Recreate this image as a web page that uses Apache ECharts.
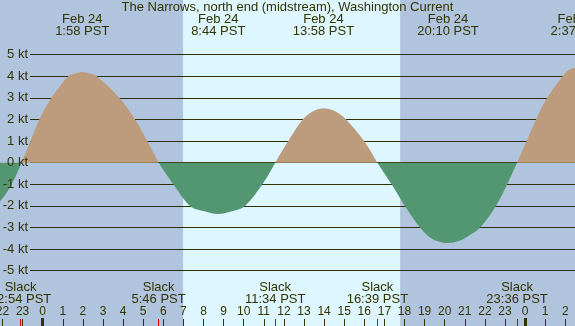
<!DOCTYPE html>
<html>
<head>
<meta charset="utf-8">
<script src="https://cdn.jsdelivr.net/npm/echarts@6/dist/echarts.min.js"></script>
<style>
html,body{margin:0;padding:0;background:#b0c4de;}
#chart{width:575px;height:326px;}
</style>
</head>
<body>
<div id="chart"></div>
<script>
// ---------------- data ----------------
const chartTitle = 'The Narrows, north end (midstream), Washington Current';
// current samples: hours since Feb 24 00:00 PST, and speed in knots (+ flood, - ebb)
const sampleHours = [-2.6, -2.12, -1.54, -1.05, -0.6, -0.17, 0.45, 1.27, 1.6, 1.97, 2.35, 2.69, 3.81, 4.6, 5.2, 5.77,
  6.5, 7.33, 8.0, 8.73, 9.45, 10.06, 10.93, 11.57,
  12.31, 12.94, 13.5, 13.97, 14.5, 15.09, 15.99, 16.65,
  17.36, 18.02, 18.77, 19.27, 19.7, 20.17, 20.7, 21.2, 21.76, 22.55, 23.11, 23.6,
  24.08, 24.54, 25.1, 25.87, 26.2, 26.62, 27.2];
const sampleKnots = [-2.05, -1.79, -1.0, 0, 1.0, 2.0, 3.0, 4.0, 4.13, 4.2, 4.13, 4.0, 3.0, 2.0, 1.0, 0,
  -1.0, -2.0, -2.24, -2.38, -2.24, -2.0, -1.0, 0,
  1.14, 2.0, 2.4, 2.52, 2.4, 2.0, 1.0, 0,
  -1.0, -2.0, -3.0, -3.46, -3.65, -3.72, -3.63, -3.38, -3.0, -2.0, -1.0, 0,
  1.0, 2.0, 3.0, 4.0, 4.3, 4.4, 4.3];
// maximum current events (top labels)
const maxDates = ['Feb 24', 'Feb 24', 'Feb 24', 'Feb 24', 'Feb 25'];
const maxTimes = ['1:58', '8:44', '13:58', '20:10', '2:37'];
const maxDayOffsets = [0, 0, 0, 0, 1];
// slack events (bottom labels, red ticks)
const slackTimes = ['22:54', '5:46', '11:34', '16:39', '23:36'];
const slackDayOffsets = [-1, 0, 0, 0, 0];
// daylight
const sunriseTime = '6:59';
const sunsetTime = '17:47';
// axis ticks
const hourTicks = [-2,-1,0,1,2,3,4,5,6,7,8,9,10,11,12,13,14,15,16,17,18,19,20,21,22,23,24,25,26];
const midnightTicks = [0, 24];
const knotTicks = [-5,-4,-3,-2,-1,0,1,2,3,4,5];

// ---------------- helpers ----------------
function toHours(t, dayOffset) {
  const p = t.split(':');
  return (dayOffset || 0) * 24 + Number(p[0]) + Number(p[1]) / 60;
}
const maxHours = maxTimes.map((t, i) => toHours(t, maxDayOffsets[i]));
const slackHours = slackTimes.map((t, i) => toHours(t, slackDayOffsets[i]));
function findIdx(arr, v) {
  let best = 0, d = Infinity;
  arr.forEach((a, i) => { const dd = Math.abs(a - v); if (dd < d) { d = dd; best = i; } });
  return best;
}
// split into flood (>= 0) and ebb (<= 0) parts; other points become gaps
const floodData = sampleHours.map((h, i) => [h, sampleKnots[i] >= 0 ? sampleKnots[i] : null]);
const ebbData = sampleHours.map((h, i) => [h, sampleKnots[i] <= 0 ? sampleKnots[i] : null]);

// ---------------- style / layout ----------------
const TXT = '#333300';
const FONT = 'Liberation Sans';
const GRAY = '#b0c4de';
const DAY = '#def6ff';
const FLOOD = '#bc9c7c';
const EBB = '#529672';
const GRID_LINE = '#2e2e00';

const PX_PER_HOUR = 20.1;
const X_MIN = -2.124, X_MAX = 27;
const Y_MIN = -7.56, Y_MAX = 7.53;
const GRIDLINE_START = X_MIN + 30 / PX_PER_HOUR;   // gridlines start 30px in from the left edge

const chart = echarts.init(document.getElementById('chart'), null, {renderer: 'canvas'});
const hiddenAxisCommon = {
  type: 'value', gridIndex: 0, min: X_MIN, max: X_MAX,
  axisLine: {show: false, onZero: false}, splitLine: {show: false}, z: 20
};
function areaSeries(data, color) {
  return {
    type: 'line', xAxisIndex: 0, yAxisIndex: 0, z: 10,
    data: data, connectNulls: false,
    smooth: 0.35, symbol: 'none', silent: true,
    itemStyle: {color: color},
    lineStyle: {width: 0, color: color},
    areaStyle: {color: color, opacity: 1, origin: 0}
  };
}

const option = {
  backgroundColor: GRAY,
  animation: false,
  title: {
    text: chartTitle, left: 'center', top: 0, padding: 0,
    textStyle: {fontFamily: FONT, fontSize: 13, fontWeight: 'normal', color: TXT, lineHeight: 14}
  },
  grid: [
    {left: 0, right: -10.4, top: 0, bottom: 0, containLabel: false, outerBoundsMode: 'none'},
    {left: 30, right: 0, top: 54.7, bottom: 55.3, containLabel: false, outerBoundsMode: 'none'}
  ],
  xAxis: [
    Object.assign({}, hiddenAxisCommon, {
      position: 'bottom',
      axisTick: {show: true, inside: true, length: 7, customValues: hourTicks, lineStyle: {color: TXT, width: 1}},
      axisLabel: {show: true, inside: true, margin: 8, customValues: hourTicks,
        fontFamily: FONT, fontSize: 12, lineHeight: 12, color: TXT,
        formatter: v => String(((Math.round(v) % 24) + 24) % 24)}
    }),
    Object.assign({}, hiddenAxisCommon, {
      position: 'bottom',
      axisTick: {show: true, inside: true, length: 8, customValues: midnightTicks, lineStyle: {color: TXT, width: 3}},
      axisLabel: {show: false}
    }),
    Object.assign({}, hiddenAxisCommon, {
      position: 'bottom',
      axisTick: {show: true, inside: true, length: 7, customValues: slackHours, lineStyle: {color: '#e00000', width: 1}},
      axisLabel: {show: true, inside: true, margin: 21, customValues: slackHours,
        fontFamily: FONT, fontSize: 13, lineHeight: 12, color: TXT,
        formatter: v => 'Slack\n' + slackTimes[findIdx(slackHours, v)] + ' PST'}
    }),
    Object.assign({}, hiddenAxisCommon, {
      position: 'top',
      axisTick: {show: false},
      axisLabel: {show: true, inside: true, margin: 13, customValues: maxHours,
        fontFamily: FONT, fontSize: 13, lineHeight: 12.4, color: TXT,
        formatter: v => { const i = findIdx(maxHours, v); return maxDates[i] + '\n' + maxTimes[i] + ' PST'; }}
    }),
    {type: 'value', gridIndex: 1, min: 0, max: 1, show: false, axisLine: {onZero: false}}
  ],
  yAxis: [
    {type: 'value', gridIndex: 0, min: Y_MIN, max: Y_MAX, show: false, axisLine: {onZero: false}},
    {type: 'value', gridIndex: 1, min: -5, max: 5, interval: 1, z: 20,
      axisLine: {show: false, onZero: false}, axisTick: {show: false},
      axisLabel: {margin: 2, fontFamily: FONT, fontSize: 13, color: TXT, formatter: '{value} kt'},
      splitLine: {show: false}}
  ],
  series: [
    {
      type: 'line', xAxisIndex: 0, yAxisIndex: 0, z: 1, silent: true,
      data: [[toHours(sunriseTime, 0), 0], [toHours(sunsetTime, 0), 0]],
      symbol: 'none', lineStyle: {width: 0},
      markArea: {
        silent: true, z: 1,
        itemStyle: {color: DAY},
        data: [[{xAxis: toHours(sunriseTime, 0), yAxis: Y_MIN}, {xAxis: toHours(sunsetTime, 0), yAxis: Y_MAX}]]
      },
      markLine: {
        silent: true, z: 2, symbol: ['none', 'none'],
        label: {show: false},
        lineStyle: {type: 'solid', color: GRID_LINE, width: 1, opacity: 1},
        data: knotTicks.map(k => [{xAxis: GRIDLINE_START, yAxis: k}, {xAxis: X_MAX, yAxis: k}])
      }
    },
    areaSeries(floodData, FLOOD),
    areaSeries(ebbData, EBB)
  ]
};
chart.setOption(option);
</script>
</body>
</html>
